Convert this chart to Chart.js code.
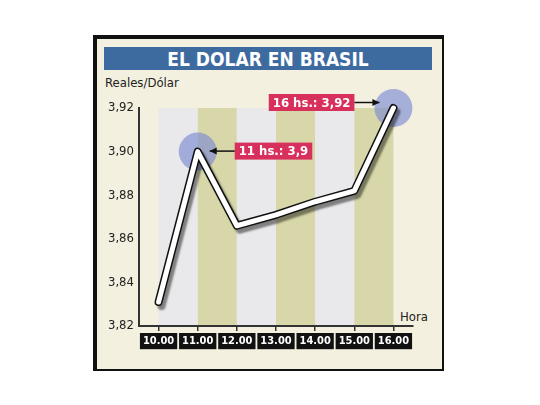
<!DOCTYPE html>
<html>
<head>
<meta charset="utf-8">
<script src="https://cdn.jsdelivr.net/npm/chart.js@4.4.1/dist/chart.umd.min.js"></script>
<style>
  body { margin: 0; background: #fff; }
  #wrap { position: relative; width: 540px; height: 405px; }
  #card { position: absolute; left: 93px; top: 35px; width: 345px; height: 330px;
          background: #f4f0df; border-style: solid; border-color: #111;
          border-width: 4px 2px 2px 4px; }
  #title { position: absolute; left: 104px; top: 47px; width: 328px; height: 23px;
           background: #3e6b9f; color: #fff; text-align: center;
           font: bold 19px "DejaVu Sans Condensed", "DejaVu Sans", sans-serif; line-height: 24px; }
  .lbl { position: absolute; color: #222; font: 13px "DejaVu Sans Condensed", "DejaVu Sans", sans-serif; }
  canvas { position: absolute; left: 0; top: 0; }
</style>
</head>
<body>
<div id="wrap">
  <div id="card"></div>
  <div id="title">EL DOLAR EN BRASIL</div>
  <div class="lbl" style="left:105px; top:75px;">Reales/Dólar</div>
  <div class="lbl" style="left:400px; top:309px;">Hora</div>
  <canvas id="myChart" width="540" height="405"></canvas>
</div>
<script>
// horas y cotizacion
var horas = ['10.00', '11.00', '12.00', '13.00', '14.00', '15.00', '16.00'];
var cotizacion = [3.831, 3.90, 3.866, 3.871, 3.877, 3.882, 3.92];
var yTicks = [3.82, 3.84, 3.86, 3.88, 3.90, 3.92];
var notaIdx = [1, 6];
var notaTexto = ['11 hs.: 3,9', '16 hs.: 3,92'];

var circulos = cotizacion.map(function (v, i) {
    return notaIdx.indexOf(i) >= 0 ? v : null;
});

// bandas de fondo
var bandas = {
    id: 'bandas',
    beforeDraw: function (chart) {
        var ctx = chart.ctx, x = chart.scales.x, y = chart.scales.y;
        var top = y.getPixelForValue(3.92), bot = y.getPixelForValue(3.82);
        for (var i = 0; i < horas.length - 1; i++) {
            var a = x.getPixelForValue(i), b = x.getPixelForValue(i + 1);
            ctx.fillStyle = i % 2 === 0 ? '#e9e8ea' : '#d8d7a9';
            ctx.fillRect(a, top, b - a, bot - top);
        }
    }
};

// sombra para la linea
var sombra = {
    id: 'sombra',
    beforeDatasetDraw: function (chart, args) {
        if (args.index !== 1) return;
        var ctx = chart.ctx;
        ctx.save();
        ctx.shadowColor = 'rgba(0,0,0,0.45)';
        ctx.shadowOffsetX = 3;
        ctx.shadowOffsetY = 4;
        ctx.shadowBlur = 2;
    },
    afterDatasetDraw: function (chart, args) {
        if (args.index === 1) chart.ctx.restore();
    }
};

// etiquetas rojas con flecha
var notas = {
    id: 'notas',
    afterDatasetsDraw: function (chart) {
        var ctx = chart.ctx, x = chart.scales.x, y = chart.scales.y;
        ctx.save();
        ctx.font = 'bold 13px "DejaVu Sans Condensed", "DejaVu Sans", sans-serif';
        ctx.textBaseline = 'middle';
        notaIdx.forEach(function (idx, k) {
            var px = x.getPixelForValue(idx), py = y.getPixelForValue(cotizacion[idx]);
            var w = ctx.measureText(notaTexto[k]).width + 8, h = 17;
            var bx, by, ax0, ax1;
            if (k === 0) {
                bx = px + 37; by = py - 9; ax0 = bx; ax1 = px + 12;
            } else {
                bx = px - 39 - w; by = py - 14; ax0 = bx + w; ax1 = px - 14;
            }
            ctx.fillStyle = '#d8305c';
            ctx.fillRect(bx, by, w, h);
            ctx.fillStyle = '#fff';
            ctx.textAlign = 'left';
            ctx.fillText(notaTexto[k], bx + 4, by + h / 2 + 1);
            var ay = by + h / 2;
            ctx.strokeStyle = '#111';
            ctx.fillStyle = '#111';
            ctx.lineWidth = 1.5;
            ctx.beginPath();
            ctx.moveTo(ax0, ay);
            ctx.lineTo(ax1, ay);
            ctx.stroke();
            var d = ax1 < ax0 ? 1 : -1;
            ctx.beginPath();
            ctx.moveTo(ax1, ay);
            ctx.lineTo(ax1 + 7 * d, ay - 3.5);
            ctx.lineTo(ax1 + 7 * d, ay + 3.5);
            ctx.closePath();
            ctx.fill();
        });
        ctx.restore();
    }
};

var ctx = document.getElementById('myChart').getContext('2d');
var myChart = new Chart(ctx, {
    type: 'line',
    data: {
        labels: horas,
        datasets: [{
            data: cotizacion,
            borderColor: '#ffffff',
            borderWidth: 5,
            borderCapStyle: 'round',
            borderJoinStyle: 'round',
            pointRadius: 0,
            tension: 0,
            clip: false
        }, {
            data: cotizacion,
            borderColor: '#111111',
            borderWidth: 8,
            borderCapStyle: 'round',
            borderJoinStyle: 'round',
            pointRadius: 0,
            tension: 0,
            clip: false
        }, {
            data: circulos,
            showLine: false,
            pointRadius: 19,
            pointBackgroundColor: 'rgba(125,140,210,0.65)',
            pointBorderWidth: 0,
            clip: false
        }]
    },
    options: {
        responsive: false,
        animation: false,
        events: [],
        layout: { padding: { left: 94, right: 127, top: 108, bottom: 39 } },
        plugins: { legend: { display: false }, tooltip: { enabled: false } },
        scales: {
            x: {
                offset: true,
                afterFit: function (s) { s.height = 40; },
                grid: { offset: false, drawOnChartArea: false, tickLength: 5, color: '#333', lineWidth: 1.5 },
                border: { color: '#333', width: 2 },
                ticks: {
                    color: '#fff',
                    padding: 4,
                    font: { family: '"DejaVu Sans Condensed", "DejaVu Sans", sans-serif', size: 11, weight: 'bold' },
                    showLabelBackdrop: true,
                    backdropColor: '#111',
                    backdropPadding: { top: 2, bottom: 1, left: 3, right: 3 },
                    maxRotation: 0
                }
            },
            y: {
                min: 3.82,
                max: 3.92,
                afterFit: function (s) { s.width = 45; },
                afterBuildTicks: function (s) {
                    s.ticks = yTicks.map(function (v) { return { value: v }; });
                },
                grid: { drawOnChartArea: false, drawTicks: false },
                border: { color: '#333', width: 2 },
                ticks: {
                    color: '#222',
                    padding: 5,
                    font: { family: '"DejaVu Sans Condensed", "DejaVu Sans", sans-serif', size: 13 },
                    callback: function (v) { return v.toFixed(2).replace('.', ','); }
                }
            }
        }
    },
    plugins: [bandas, sombra, notas]
});
</script>
</body>
</html>
